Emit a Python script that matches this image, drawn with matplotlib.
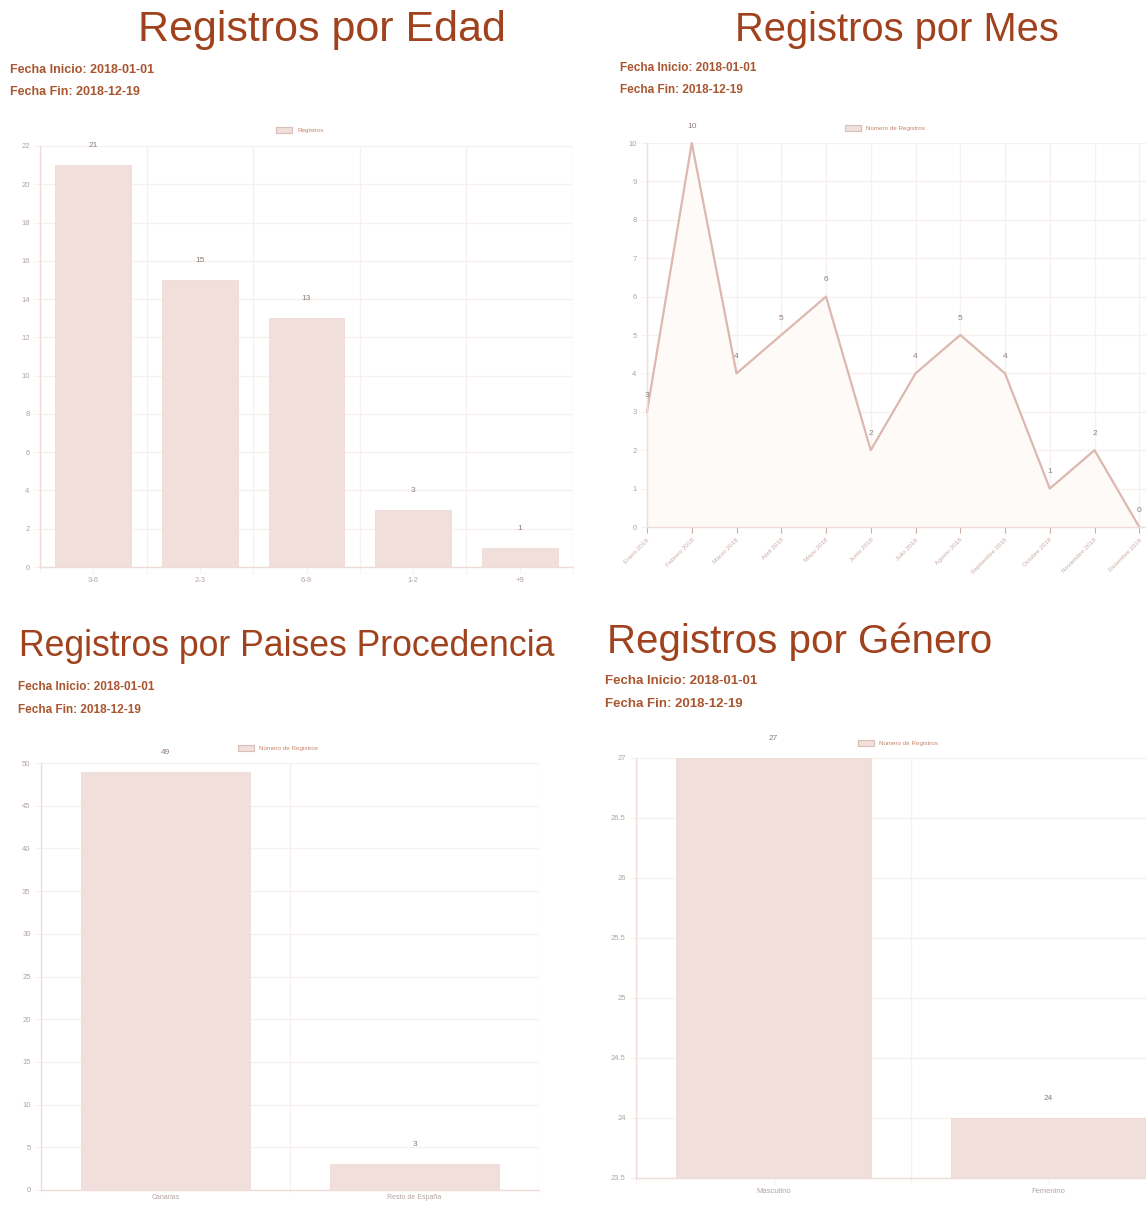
import matplotlib
matplotlib.use("Agg")
import matplotlib.pyplot as plt
import numpy as np
from matplotlib.patches import Patch

plt.rcParams['font.family'] = ['Liberation Sans', 'DejaVu Sans']

# datos
edad_labels = ['3-6', '2-3', '6-9', '1-2', '+9']
edad_vals = [21, 15, 13, 3, 1]

meses = ['Enero 2018', 'Febrero 2018', 'Marzo 2018', 'Abril 2018', 'Mayo 2018',
         'Junio 2018', 'Julio 2018', 'Agosto 2018', 'Septiembre 2018',
         'Octubre 2018', 'Noviembre 2018', 'Diciembre 2018']
mes_vals = [3, 10, 4, 5, 6, 2, 4, 5, 4, 1, 2, 0]

paises = ['Canarias', 'Resto de España']
paises_vals = [49, 3]

genero = ['Masculino', 'Femenino']
genero_vals = [27, 24]

fecha_ini = 'Fecha Inicio: 2018-01-01'
fecha_fin = 'Fecha Fin: 2018-12-19'

W, H = 1146, 1207
BAR = '#f1dfdb'
EDGE = '#ecd6d1'
LINE = '#dcb8b0'
GRID = '#f6f0ee'
TICK = '#b3a39f'
TITLE = '#a0421d'
SUB = '#a9552f'
LBL = '#8d7d79'

fig = plt.figure(figsize=(W / 100, H / 100), dpi=100)
fig.patch.set_facecolor('white')


def px_axes(l, t, r, b):
    return fig.add_axes([l / W, 1 - b / H, (r - l) / W, (b - t) / H])


def header(title, x, y, size, sx, sy1, sy2, ssize):
    fig.text(x / W, 1 - y / H, title, ha='center', va='center', fontsize=size, color=TITLE)
    fig.text(sx / W, 1 - sy1 / H, fecha_ini, ha='left', va='center', fontsize=ssize,
             color=SUB, fontweight='bold')
    fig.text(sx / W, 1 - sy2 / H, fecha_fin, ha='left', va='center', fontsize=ssize,
             color=SUB, fontweight='bold')


def style(ax, bar=True):
    for s in ['top', 'right']:
        ax.spines[s].set_visible(False)
    for s in ['left', 'bottom']:
        ax.spines[s].set_color('#eddcd8')
        ax.spines[s].set_linewidth(1)
    ax.tick_params(axis='both', colors=TICK, labelsize=5.5, length=4, width=0.8)
    ax.tick_params(axis='both', which='both', color=GRID)
    ax.grid(axis='y', color=GRID, linewidth=1)
    ax.set_axisbelow(True)
    if bar:
        n = len(ax.get_xticks())
        ax.set_xticks(np.arange(n + 1) - 0.5, minor=True)
        ax.grid(axis='x', which='minor', color=GRID, linewidth=1)
        ax.tick_params(axis='x', which='minor', length=4)


def legend(ax, text, x, y):
    h = Patch(facecolor=BAR, edgecolor='#d9bdb6', linewidth=0.8)
    ax.legend([h], [text], loc='center', bbox_to_anchor=(x / W, 1 - y / H),
              bbox_transform=fig.transFigure, frameon=False, fontsize=4.5,
              handlelength=2.6, handleheight=1.0, labelcolor='#c4866a')


# Registros por Edad
header('Registros por Edad', 322, 30, 31, 10, 70, 92, 9)
ax1 = px_axes(40, 146, 573, 567)
x = np.arange(len(edad_labels))
ax1.bar(x, edad_vals, width=0.71, color=BAR, edgecolor=EDGE, linewidth=0.5)
ax1.set_xticks(x, edad_labels)
ax1.set_xlim(-0.5, len(edad_labels) - 0.5)
ax1.set_ylim(0, 22)
ax1.set_yticks(np.arange(0, 23, 2))
style(ax1)
for i, v in zip(x, edad_vals):
    ax1.annotate(str(v), (i, v), xytext=(0, 14), textcoords='offset points',
                 ha='center', va='center', fontsize=6, color=LBL)
legend(ax1, 'Registros', 300, 130)

# Registros por Mes
header('Registros por Mes', 897, 30, 28.7, 620, 68, 90, 8.5)
ax2 = px_axes(647, 143, 1146, 527)
xm = np.arange(len(meses))
ax2.fill_between(xm, mes_vals, color='#fefaf8', zorder=1)
ax2.plot(xm, mes_vals, color=LINE, linewidth=1.6, zorder=2, clip_on=False)
ax2.set_xticks(xm)
ax2.set_xticklabels(meses, rotation=45, ha='right', rotation_mode='anchor')
ax2.set_xlim(0, len(meses) - 1 + 0.15)
ax2.set_ylim(0, 10)
ax2.set_yticks(np.arange(0, 11, 1))
style(ax2, bar=False)
ax2.grid(axis='x', color=GRID, linewidth=1)
ax2.tick_params(axis='x', colors='#c9aca4', labelsize=4.6)
for i, v in zip(xm, mes_vals):
    ax2.annotate(str(v), (i, v), xytext=(0, 12), textcoords='offset points',
                 ha='center', va='center', fontsize=6, color=LBL, annotation_clip=False)
legend(ax2, 'Número de Registros', 885, 128)

# Registros por Paises Procedencia
header('Registros por Paises Procedencia', 287, 647, 25.7, 18, 687, 710, 8.5)
ax3 = px_axes(41, 763, 539, 1190)
xp = np.arange(len(paises))
ax3.bar(xp, paises_vals, width=0.68, color=BAR, edgecolor=EDGE, linewidth=0.5)
ax3.set_xticks(xp, paises)
ax3.set_xlim(-0.5, len(paises) - 0.5)
ax3.set_ylim(0, 50)
ax3.set_yticks(np.arange(0, 51, 5))
style(ax3)
ax3.tick_params(axis='x', which='both', length=2, pad=1, labelsize=5)
for i, v in zip(xp, paises_vals):
    ax3.annotate(str(v), (i, v), xytext=(0, 14), textcoords='offset points',
                 ha='center', va='center', fontsize=6, color=LBL)
legend(ax3, 'Número de Registros', 278, 748)

# Registros por Genero
header('Registros por Género', 800, 642, 29, 605, 681, 704, 9.5)
ax4 = px_axes(636, 758, 1186, 1178)
xg = np.arange(len(genero))
ax4.bar(xg, genero_vals, width=0.71, color=BAR, edgecolor=EDGE, linewidth=0.5)
ax4.set_xticks(xg, genero)
ax4.set_xlim(-0.5, len(genero) - 0.5)
ax4.set_ylim(23.5, 27)
ax4.set_yticks(np.arange(23.5, 27.01, 0.5))
ax4.set_yticklabels(['%g' % t for t in np.arange(23.5, 27.01, 0.5)])
style(ax4)
for i, v in zip(xg, genero_vals):
    ax4.annotate(str(v), (i, v), xytext=(0, 14), textcoords='offset points',
                 ha='center', va='center', fontsize=6, color=LBL, annotation_clip=False)
legend(ax4, 'Número de Registros', 898, 743)

fig.savefig('out.png', dpi=100, facecolor='white')
